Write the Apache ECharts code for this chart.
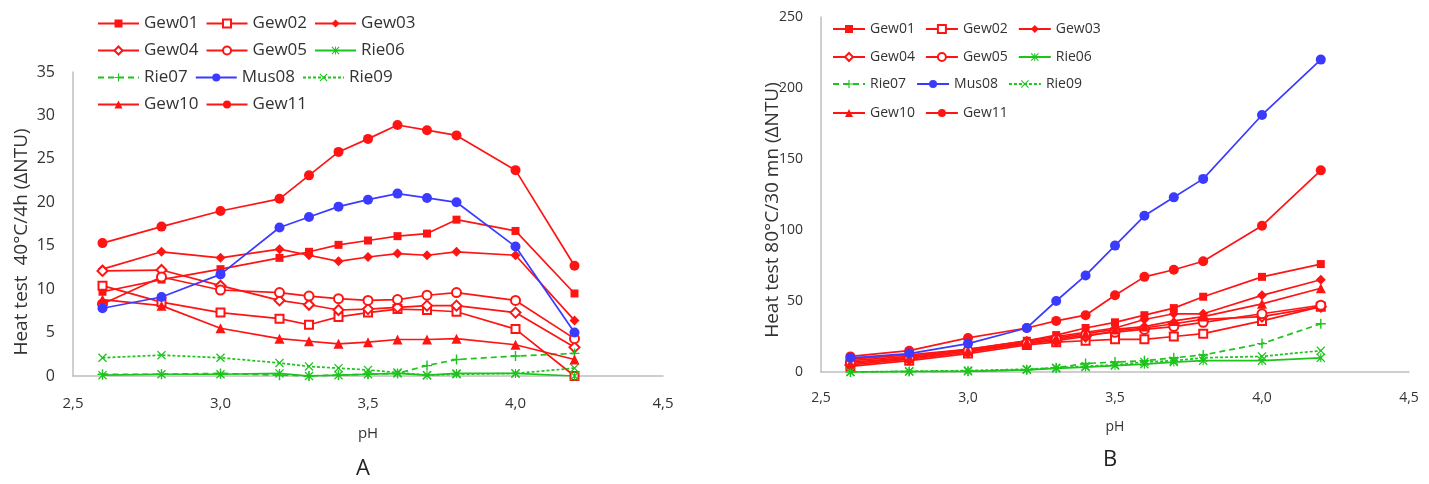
<!DOCTYPE html>
<html>
<head>
<meta charset="utf-8">
<script src="https://cdn.jsdelivr.net/npm/echarts@6/dist/echarts.min.js"></script>
<style>
  html, body { margin: 0; padding: 0; background: #fff; }
  #chart { width: 1429px; height: 484px; }
</style>
</head>
<body>
<div id="chart"></div>
<script>
// pH values shared by both heat tests
const PH = [2.6, 2.8, 3.0, 3.2, 3.3, 3.4, 3.5, 3.6, 3.7, 3.8, 4.0, 4.2];

// Heat test 40°C / 4h (ΔNTU)
const gew01_40 = [9.7, 11.1, 12.3, 13.6, 14.3, 15.1, 15.6, 16.1, 16.4, 18.0, 16.7, 9.5];
const gew02_40 = [10.4, 8.5, 7.3, 6.6, 5.9, 6.8, 7.3, 7.7, 7.6, 7.4, 5.4, 0.0];
const gew03_40 = [12.3, 14.3, 13.6, 14.6, 13.9, 13.2, 13.7, 14.1, 13.9, 14.3, 13.9, 6.4];
const gew04_40 = [12.1, 12.2, 10.4, 8.7, 8.2, 7.6, 7.7, 7.9, 8.1, 8.1, 7.3, 3.3];
const gew05_40 = [8.3, 11.4, 9.9, 9.6, 9.2, 8.9, 8.7, 8.8, 9.3, 9.6, 8.7, 4.3];
const rie06_40 = [0.1, 0.2, 0.2, 0.3, 0.0, 0.1, 0.2, 0.3, 0.1, 0.3, 0.3, 0.0];
const rie07_40 = [0.2, 0.2, 0.3, 0.1, 0.0, 0.1, 0.2, 0.3, 1.2, 1.9, 2.3, 2.6];
const mus08_40 = [7.8, 9.1, 11.7, 17.1, 18.3, 19.5, 20.3, 21.0, 20.5, 20.0, 14.9, 5.0];
const rie09_40 = [2.1, 2.4, 2.1, 1.5, 1.1, 0.9, 0.7, 0.4, 0.1, 0.2, 0.3, 0.9];
const gew10_40 = [8.8, 8.1, 5.5, 4.3, 4.0, 3.7, 3.9, 4.2, 4.2, 4.3, 3.6, 1.9];
const gew11_40 = [15.3, 17.2, 19.0, 20.4, 23.1, 25.8, 27.3, 28.9, 28.3, 27.7, 23.7, 12.7];

// Heat test 80°C / 30 mn (ΔNTU)
const gew01_80 = [8, 11, 16, 22, 26, 31, 35, 40, 45, 53, 67, 76];
const gew02_80 = [4, 8, 13, 19, 21, 22, 23, 23, 25, 27, 36, 46];
const gew03_80 = [9, 12, 16, 22, 25, 28, 31, 37, 41, 41, 54, 65];
const gew04_80 = [5, 9, 14, 20, 22, 25, 29, 31, 34, 37, 39, 46];
const gew05_80 = [7, 10, 15, 20, 23, 26, 28, 30, 32, 35, 41, 47];
const rie06_80 = [0, 0.3, 0.5, 1.5, 2.5, 3.5, 4.5, 5.5, 7, 8, 8, 10];
const rie07_80 = [0, 0.3, 0.5, 1.5, 3, 6, 7, 8, 10, 12, 20, 34];
const mus08_80 = [10, 13, 20, 31, 50, 68, 89, 110, 123, 136, 181, 220];
const rie09_80 = [0, 0.5, 1, 2, 3, 4, 5, 7, 8, 10, 11, 15];
const gew10_80 = [6, 10, 15, 21, 24, 27, 30, 32, 36, 39, 48, 59];
const gew11_80 = [11, 15, 24, 31, 36, 40, 54, 67, 72, 78, 103, 142];

const NAMES = ['Gew01', 'Gew02', 'Gew03', 'Gew04', 'Gew05', 'Rie06', 'Rie07', 'Mus08', 'Rie09', 'Gew10', 'Gew11'];
const VALUES_40 = [gew01_40, gew02_40, gew03_40, gew04_40, gew05_40, rie06_40, rie07_40, mus08_40, rie09_40, gew10_40, gew11_40];
const VALUES_80 = [gew01_80, gew02_80, gew03_80, gew04_80, gew05_80, rie06_80, rie07_80, mus08_80, rie09_80, gew10_80, gew11_80];
const X_TICKS = [2.5, 3.0, 3.5, 4.0, 4.5];
const TITLE_40 = 'Heat test  40°C/4h (ΔNTU)';
const TITLE_80 = 'Heat test 80°C/30 mn (ΔNTU)';

const RED = '#FF1414';
const BLUE = '#3B3BFF';
const GREEN = '#1CC41C';
const TEXT = '#333333';
const AXIS = '#BFBFBF';
const FONT = '"Open Sans", sans-serif';

// marker shapes drawn as filled outlines
const PLUS = 'path://M4.3,0H5.7V4.3H10V5.7H5.7V10H4.3V5.7H0V4.3H4.3Z';
const CROSS = 'path://M0,1L1,0L5,4L9,0L10,1L6,5L10,9L9,10L5,6L1,10L0,9L4,5Z';
const STAR = 'path://M0,1L1,0L5,4L9,0L10,1L6,5L10,9L9,10L5,6L1,10L0,9L4,5Z M4.4,0H5.6V10H4.4Z';

const STYLE = {
  Gew01: { color: RED, symbol: 'rect', size: 8, type: 'solid' },
  Gew02: { color: RED, symbol: 'emptyRect', size: 8, type: 'solid' },
  Gew03: { color: RED, symbol: 'diamond', size: 10, type: 'solid' },
  Gew04: { color: RED, symbol: 'emptyDiamond', size: 10, type: 'solid' },
  Gew05: { color: RED, symbol: 'emptyCircle', size: 9, type: 'solid' },
  Rie06: { color: GREEN, symbol: STAR, size: 9, type: 'solid' },
  Rie07: { color: GREEN, symbol: PLUS, size: 10, type: [6, 4] },
  Mus08: { color: BLUE, symbol: 'circle', size: 10, type: 'solid' },
  Rie09: { color: GREEN, symbol: CROSS, size: 9, type: [3, 2] },
  Gew10: { color: RED, symbol: 'triangle', size: 10, type: 'solid' },
  Gew11: { color: RED, symbol: 'circle', size: 10, type: 'solid' }
};

function buildSeries(values, axisIdx) {
  return NAMES.map((name, i) => {
    const s = STYLE[name];
    return {
      name: name,
      type: 'line',
      xAxisIndex: axisIdx,
      yAxisIndex: axisIdx,
      data: PH.map((p, k) => [p, values[i][k]]),
      symbol: s.symbol,
      symbolSize: s.size,
      symbolKeepAspect: true,
      showAllSymbol: true,
      lineStyle: { color: s.color, width: 1.7, type: s.type },
      itemStyle: { color: s.color, borderWidth: 1.5 },
      emphasis: { disabled: true },
      z: name === 'Mus08' ? 3 : 2
    };
  });
}

const LEGEND_ROWS = [
  ['Gew01', 'Gew02', 'Gew03'],
  ['Gew04', 'Gew05', 'Rie06'],
  ['Rie07', 'Mus08', 'Rie09'],
  ['Gew10', 'Gew11']
];

function buildLegends(left, rowTops, lineW, fontSize, textW, gap) {
  return LEGEND_ROWS.map((row, r) => ({
    data: row,
    left: left,
    top: rowTops[r],
    orient: 'horizontal',
    itemWidth: lineW,
    itemHeight: 10,
    itemGap: gap,
    padding: 0,
    selectedMode: false,
    textStyle: { color: TEXT, fontSize: fontSize, fontFamily: FONT, width: textW, overflow: 'truncate' }
  }));
}

function xAxis(gridIndex, fontSize, labelMargin, nameGap) {
  return {
    type: 'value', gridIndex: gridIndex, min: 2.5, max: 4.5, interval: 0.5,
    name: 'pH', nameLocation: 'middle', nameGap: nameGap,
    nameTextStyle: { color: TEXT, fontSize: fontSize, fontFamily: FONT },
    axisLine: { show: true, lineStyle: { color: AXIS, width: 1.5 } },
    axisTick: { show: false },
    splitLine: { show: false },
    axisLabel: {
      color: TEXT, fontSize: fontSize, fontFamily: FONT, margin: labelMargin,
      formatter: v => X_TICKS.indexOf(v) >= 0 ? v.toFixed(1).replace('.', ',') : ''
    }
  };
}

function yAxis(gridIndex, max, interval, fontSize) {
  return {
    type: 'value', gridIndex: gridIndex, min: 0, max: max, interval: interval,
    axisLine: { show: true, lineStyle: { color: AXIS, width: 1.5 } },
    axisTick: { show: false },
    splitLine: { show: false },
    axisLabel: { color: TEXT, fontSize: fontSize, fontFamily: FONT, margin: 18 }
  };
}

// rotated y-axis title
function yTitle(text, x, y) {
  return {
    type: 'text', x: x, y: y, rotation: Math.PI / 2,
    style: { text: text, fontSize: 19, fontFamily: FONT, fill: TEXT, align: 'center', verticalAlign: 'middle' }
  };
}

const chart = echarts.init(document.getElementById('chart'), null, { renderer: 'canvas' });
chart.setOption({
  animation: false,
  backgroundColor: '#fff',
  grid: [
    { left: 73, top: 72, width: 590, height: 304 },
    { left: 821, top: 17, width: 588, height: 355 }
  ],
  xAxis: [xAxis(0, 15, 20, 50), xAxis(1, 14, 19, 48)],
  yAxis: [yAxis(0, 35, 5, 16), yAxis(1, 250, 50, 14)],
  legend: [].concat(
    buildLegends(97, [15, 42, 69, 96], 41, 17, 62, 7),
    buildLegends(832, [22, 50, 77, 106], 32, 14, 52, 10)
  ),
  graphic: [
    yTitle(TITLE_40, 22, 242),
    yTitle(TITLE_80, 773, 210),
    { type: 'text', left: 356, top: 458, style: { text: 'A', fontSize: 22, fontFamily: FONT, fill: '#222' } },
    { type: 'text', left: 1103, top: 449, style: { text: 'B', fontSize: 22, fontFamily: FONT, fill: '#222' } }
  ],
  series: [].concat(buildSeries(VALUES_40, 0), buildSeries(VALUES_80, 1))
});
</script>
</body>
</html>
